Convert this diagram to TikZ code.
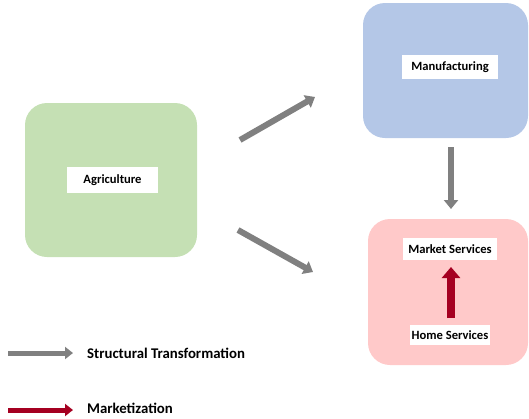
\documentclass[tikz,border=0pt]{standalone}
\usepackage{fontspec}
\setmainfont{Carlito}
\usepackage{tikz}
\usetikzlibrary{arrows.meta}
\definecolor{agrigreen}{HTML}{C5E0B4}
\definecolor{manublue}{HTML}{B4C7E7}
\definecolor{servpink}{HTML}{FFC9C9}
\definecolor{flowgray}{HTML}{808080}
\definecolor{marketred}{HTML}{A50021}
\tikzstyle{sector} = [rectangle, rounded corners=22pt, draw=none]
\tikzstyle{tag} = [rectangle, fill=white, inner sep=0pt,
text centered, font=\bfseries\fontsize{12.6}{14}\selectfont]
\tikzstyle{legendtext} = [anchor=west, inner sep=0pt,
font=\bfseries\fontsize{14.8}{16}\selectfont]
\tikzstyle{grayarrow} = [draw=flowgray, line width=6pt,
-{Triangle[width=14pt,length=9pt]}]
\tikzstyle{redarrow} = [draw=marketred, line width=8pt,
-{Triangle[width=18pt,length=11pt]}]

\begin{document}
\begin{tikzpicture}[x=1pt,y=-1pt]
\useasboundingbox (0,0) rectangle (529,418);

% sector boxes
\node (agri) [sector, fill=agrigreen, minimum width=172pt, minimum height=154pt] at (111,180) {};
\node (manu) [sector, fill=manublue, minimum width=165pt, minimum height=135pt] at (445.5,70.5) {};
\node (serv) [sector, fill=servpink, minimum width=160pt, minimum height=146pt] at (448,292) {};

% labels
\node (agrilab) [tag, minimum width=91pt, minimum height=26pt] at (112.5,180) {Agriculture};
\node (manulab) [tag, minimum width=96pt, minimum height=24pt] at (450,67) {Manufacturing};
\node (market) [tag, minimum width=94pt, minimum height=22pt] at (450,249) {Market Services};
\node (home) [tag, minimum width=80pt, minimum height=20pt] at (450,335) {Home Services};

% arrow ends
\coordinate (up0) at (240,140);
\coordinate (up1) at (315,97);
\coordinate (dn0) at (238,230);
\coordinate (dn1) at (313,272);
\coordinate (mid0) at (451,147);
\coordinate (mid1) at (451,209);
\coordinate (red0) at (451,318);
\coordinate (red1) at (451,267);

\draw [grayarrow] (up0) -- (up1);
\draw [grayarrow] (dn0) -- (dn1);
\draw [grayarrow] (mid0) -- (mid1);
\draw [redarrow] (red0) -- (red1);

% legend
\coordinate (lg0) at (8,353);
\coordinate (lg1) at (73,353);
\coordinate (lr0) at (8,410);
\coordinate (lr1) at (73,410);
\draw [grayarrow, line width=5pt, -{Triangle[width=12pt,length=8pt]}] (lg0) -- (lg1);
\draw [redarrow, line width=5pt, -{Triangle[width=12pt,length=8pt]}] (lr0) -- (lr1);
\node (lgtext) [legendtext] at (87,353) {Structural Transformation};
\node (lrtext) [legendtext] at (87,408.5) {Marketization};

\end{tikzpicture}
\end{document}
